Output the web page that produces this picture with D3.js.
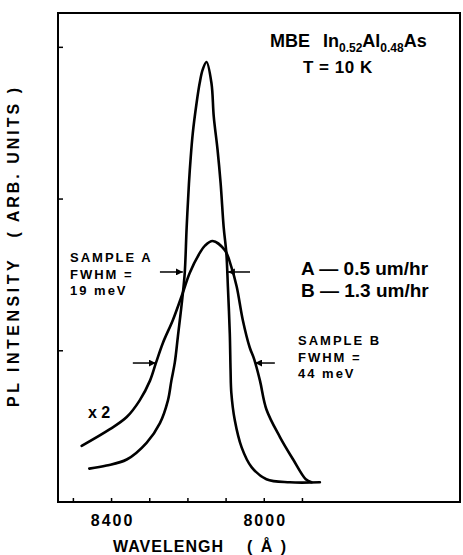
<!DOCTYPE html>
<html>
<head>
<meta charset="utf-8">
<script src="https://cdn.jsdelivr.net/npm/d3@7"></script>
<style>
	body { margin: 0; background: #fff; }
	svg text { font-family: "Liberation Sans", Arial, sans-serif; font-weight: bold; fill: #000; }
</style>
</head>
<body>
<div id="graph-container"></div>
<script>
// wavelength (Angstrom) and PL intensity
const sampleA = [
	[8457, 0.22], [8412, 0.24], [8359, 0.28], [8307, 0.39], [8272, 0.52],
	[8251, 0.67], [8242, 0.80], [8233, 0.92], [8225, 1.09], [8213, 1.35],
	[8207, 1.51], [8202, 1.81], [8196, 2.10], [8192, 2.25], [8186, 2.43],
	[8176, 2.63], [8168, 2.76], [8160, 2.85], [8150, 2.90], [8137, 2.76],
	[8131, 2.54], [8121, 2.32], [8113, 2.10], [8105, 1.81], [8098, 1.64],
	[8094, 1.42], [8089, 1.11], [8087, 0.87], [8085, 0.72], [8076, 0.54],
	[8058, 0.36], [8032, 0.23], [7993, 0.15], [7932, 0.13], [7853, 0.13]
];
const sampleB = [
	[8477, 0.37], [8403, 0.48], [8359, 0.56], [8325, 0.67], [8298, 0.80],
	[8282, 0.92], [8264, 1.05], [8238, 1.20], [8212, 1.38], [8194, 1.51],
	[8168, 1.64], [8154, 1.69], [8134, 1.72], [8102, 1.66], [8085, 1.55],
	[8071, 1.42], [8055, 1.20], [8037, 1.02], [8025, 0.94], [8010, 0.80],
	[7993, 0.61], [7958, 0.43], [7923, 0.28], [7890, 0.15], [7875, 0.13]
];
// FWHM arrows: [from wavelength, to wavelength, intensity]
const arrowsA = [[8272, 8212, 1.516], [8036, 8094, 1.516]];
const arrowsB = [[8343, 8283, 0.916], [7971, 8023, 0.916]];
const xTicks = [8500, 8400, 8300, 8200, 8100, 8000, 7900];
const xTickLabels = { 8400: "8400", 8000: "8000" };
const yTicks = [1, 2, 3];

document.addEventListener("DOMContentLoaded", function () {
	builder();
});

function builder() {
	const w = 463;
	const h = 555;
	const left = 58, right = 460, top = 13, bottom = 502;

	const svg = d3.select("#graph-container")
		.append("svg")
		.attr("width", w)
		.attr("height", h);

	const x = d3.scaleLinear().domain([8539, 7486]).range([left, right]);
	const y = d3.scaleLinear().domain([0, 3.223]).range([bottom, top]);

	// frame
	svg.append("rect")
		.attr("x", left).attr("y", top)
		.attr("width", right - left).attr("height", bottom - top)
		.attr("fill", "none").attr("stroke", "#000").attr("stroke-width", 2);

	// ticks pointing inward
	const xAxis = d3.axisBottom(x)
		.tickValues(xTicks)
		.tickSizeInner(-4).tickSizeOuter(0)
		.tickPadding(9)
		.tickFormat(d => xTickLabels[d] || "");
	const gx = svg.append("g").attr("transform", `translate(0,${bottom})`).call(xAxis);
	gx.select(".domain").remove();
	gx.selectAll("line").attr("stroke", "#000").attr("stroke-width", 1.5);
	gx.selectAll("text")
		.style("font-size", "16px").style("letter-spacing", "2px")
		.attr("dy", "0.95em").attr("dx", "1px");

	const yAxis = d3.axisLeft(y).tickValues(yTicks).tickSizeInner(-5).tickSizeOuter(0).tickFormat("");
	const gy = svg.append("g").attr("transform", `translate(${left},0)`).call(yAxis);
	gy.select(".domain").remove();
	gy.selectAll("line").attr("stroke", "#000").attr("stroke-width", 1.5);

	// curves
	const line = d3.line()
		.x(d => x(d[0]))
		.y(d => y(d[1]))
		.curve(d3.curveCatmullRom.alpha(0.5));

	[sampleA, sampleB].forEach(s => {
		svg.append("path")
			.datum(s)
			.attr("d", line)
			.attr("fill", "none")
			.attr("stroke", "#000")
			.attr("stroke-width", 2.6)
			.attr("stroke-linejoin", "round")
			.attr("stroke-linecap", "round");
	});

	// FWHM arrows
	svg.append("defs").append("marker")
		.attr("id", "head")
		.attr("viewBox", "0 0 10 10")
		.attr("refX", 10).attr("refY", 5)
		.attr("markerWidth", 7).attr("markerHeight", 7)
		.attr("markerUnits", "userSpaceOnUse")
		.attr("orient", "auto")
		.append("path").attr("d", "M0,0L10,5L0,10z").attr("fill", "#000");

	svg.selectAll(".fwhm")
		.data(arrowsA.concat(arrowsB))
		.enter()
		.append("line")
		.attr("class", "fwhm")
		.attr("x1", d => x(d[0])).attr("x2", d => x(d[1]))
		.attr("y1", d => y(d[2])).attr("y2", d => y(d[2]))
		.attr("stroke", "#000").attr("stroke-width", 1.5)
		.attr("marker-end", "url(#head)");

	// title block
	const t1 = svg.append("text").attr("x", 270).attr("y", 47).style("font-size", "18px");
	t1.append("tspan").text("MBE");
	t1.append("tspan").attr("dx", 13).text("In");
	t1.append("tspan").attr("dy", 5).style("font-size", "12px").text("0.52");
	t1.append("tspan").attr("dy", -5).text("Al");
	t1.append("tspan").attr("dy", 5).style("font-size", "12px").text("0.48");
	t1.append("tspan").attr("dy", -5).text("As");

	svg.append("text").attr("x", 303).attr("y", 73)
		.style("font-size", "17px").style("letter-spacing", "0.5px")
		.text("T = 10 K");

	// growth rates
	svg.append("text").attr("x", 301).attr("y", 275).style("font-size", "19px").text("A \u2014 0.5 um/hr");
	svg.append("text").attr("x", 301).attr("y", 297).style("font-size", "19px").text("B \u2014 1.3 um/hr");

	// sample labels
	const small = (x0, y0, lines) => {
		lines.forEach((s, i) => {
			svg.append("text").attr("x", x0).attr("y", y0 + i * 16.5)
				.style("font-size", "13px").style("letter-spacing", "2px")
				.text(s);
		});
	};
	small(70, 262, ["SAMPLE A", "FWHM =", "19 meV"]);
	small(298, 345, ["SAMPLE B", "FWHM =", "44 meV"]);

	svg.append("text").attr("x", 88).attr("y", 418).style("font-size", "16px").text("x 2");

	// axis titles
	svg.append("text")
		.attr("transform", "translate(19,407) rotate(-90)")
		.style("font-size", "16px").style("letter-spacing", "3.5px")
		.text("PL INTENSITY");
	svg.append("text")
		.attr("transform", "translate(19,85) rotate(-90)")
		.attr("text-anchor", "end")
		.style("font-size", "16px").style("letter-spacing", "3px")
		.text("( ARB. UNITS )");

	svg.append("text").attr("x", 113).attr("y", 552)
		.style("font-size", "16px").style("letter-spacing", "1px")
		.text("WAVELENGH");
	svg.append("text").attr("x", 247).attr("y", 552)
		.style("font-size", "16px").style("letter-spacing", "2px")
		.text("( \u00C5 )");
}
</script>
</body>
</html>
